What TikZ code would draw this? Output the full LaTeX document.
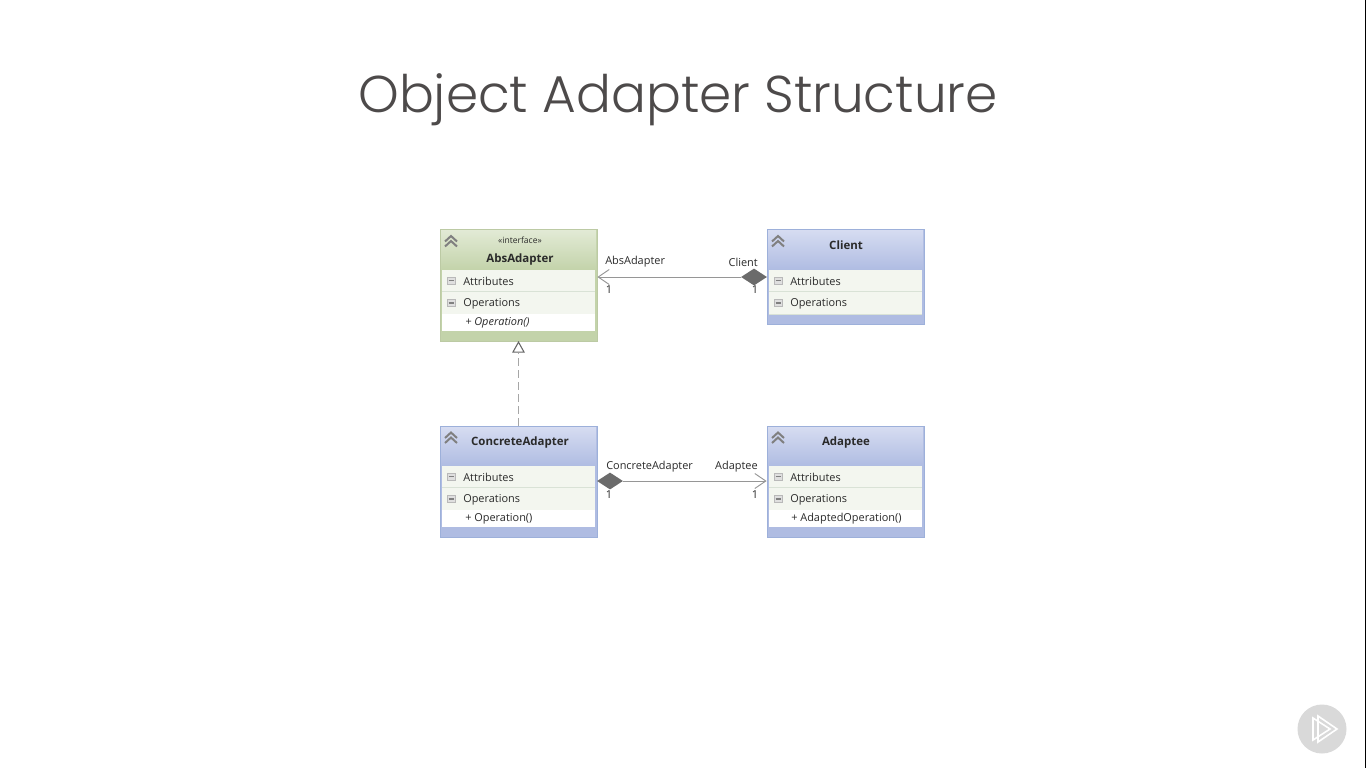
\documentclass[tikz,border=0pt]{standalone}
\usepackage{fontspec}
\setmainfont{Open Sans}
\newfontfamily\titlefont{Poppins Light}
\usetikzlibrary{shapes.geometric,arrows.meta}
\definecolor{txt}{HTML}{2A2A2A}
\definecolor{titlecol}{HTML}{4D4A4A}
\definecolor{conn}{HTML}{969696}
\definecolor{dashcol}{HTML}{A6A6A6}
\definecolor{dia}{HTML}{6B6B6B}
\definecolor{comp}{HTML}{F3F6EF}
\definecolor{sepcol}{HTML}{D9E2D6}
\definecolor{gtop}{HTML}{E2EAD5}
\definecolor{gbot}{HTML}{C3D3AA}
\definecolor{gbord}{HTML}{BCCAA4}
\definecolor{btop}{HTML}{D6DCF1}
\definecolor{bbot}{HTML}{AFBCE2}
\definecolor{bbord}{HTML}{9DB0DA}
\tikzset{
  x=0.75pt,y=-0.75pt,
  classbody/.style={rectangle,draw,line width=0.6pt,inner sep=0pt,minimum width=157*0.75pt},
  classname/.style={font=\fontsize{8.6pt}{10pt}\selectfont\bfseries,text=txt,inner sep=0pt},
  member/.style={font=\fontsize{8.2pt}{10pt}\selectfont,text=txt,inner sep=0pt,anchor=west},
  stereo/.style={font=\fontsize{6.4pt}{8pt}\selectfont,text=txt,inner sep=0pt},
  endlabel/.style={font=\fontsize{8.2pt}{10pt}\selectfont,text=txt,inner sep=0pt},
  assoc/.style={draw=conn,line width=0.7pt},
  diamondend/.style={diamond,fill=dia,draw=none,inner sep=0pt,minimum width=26*0.75pt,minimum height=17*0.75pt},
  openhead/.style={-{Straight Barb[length=11*0.75pt,width=15*0.75pt,line width=0.7pt]}},
  realize/.style={draw=dashcol,line width=1.4pt,dash pattern=on 5.5pt off 3.5pt},
  hollowtip/.style={isosceles triangle,isosceles triangle apex angle=58,shape border rotate=90,draw=black!60,fill=white,line width=0.8pt,inner sep=0pt,minimum height=10*0.75pt},
}
% #1 node name, #2 x1, #3 y1, #4 x2, #5 y2, #6 header bottom, #7 top colour, #8 bottom colour, #9 border
\newcommand{\classbox}[9]{%
  \pgfmathsetmacro{\cxa}{(#2+#4)/2}\pgfmathsetmacro{\cya}{(#3+#5)/2}\pgfmathsetmacro{\hh}{#5-#3}%
  \node[classbody,fill=#8,draw=#9,minimum height=\hh*0.75pt] (#1) at (\cxa,\cya) {};
  \shade[top color=#7,bottom color=#8] (#2+1,#3+1) rectangle (#4-1,#6);
}
% #1 name, #2 x1, #3 x2, #4 y1, #5 y2, #6 label
\newcommand{\compartment}[6]{%
  \fill[comp] (#2+2,#4) rectangle (#3-2,#5);
  \draw[sepcol,line width=0.7pt] (#2+2,#5) -- (#3-2,#5);
  \pgfmathsetmacro{\my}{(#4+#5)/2}%
  \fill[gray!55] (#2+7,\my-4) rectangle (#2+15.5,\my+4);
  \fill[gray!25] (#2+8,\my-3) rectangle (#2+14.5,\my+3);
  \draw[black!50,line width=0.8pt] (#2+8.5,\my) -- (#2+14,\my);
  \node[member] (#1) at (#2+23,\my+0.7) {#6};
}
% double chevron
\newcommand{\chev}[2]{%
  \draw[black!50,line width=1.5pt] (#1-6,#2+0.5) -- (#1,#2-5) -- (#1+6,#2+0.5);
  \draw[black!50,line width=1.5pt] (#1-6,#2+5.5) -- (#1,#2) -- (#1+6,#2+5.5);
}
\begin{document}
\begin{tikzpicture}
\useasboundingbox (0,0) rectangle (1366,768);
\fill[white] (0,0) rectangle (1366,768);
\fill[black] (1365,0) rectangle (1366,768);

\node[font=\titlefont\fontsize{38.8pt}{46pt}\selectfont,text=titlecol,inner sep=0pt,anchor=base] (title) at (678,112) {Object Adapter Structure};

% AbsAdapter
\classbox{abs}{440}{229}{597}{341}{270}{gtop}{gbot}{gbord}
\chev{451}{241}
\node[stereo] (absst) at (520,240) {«interface»};
\node[classname] (absn) at (520,260) {AbsAdapter};
\compartment{absa}{440}{597}{270}{291}{Attributes}
\compartment{abso}{440}{597}{292}{314}{Operations}
\fill[white] (442,314) rectangle (595,331);
\node[member,font=\fontsize{8.2pt}{10pt}\selectfont\itshape] (absm) at (465,323) {+ Operation()};

% Client
\classbox{cli}{767}{229}{924}{324}{270}{btop}{bbot}{bbord}
\chev{778}{241}
\node[classname] (clin) at (846,245) {Client};
\compartment{clia}{767}{924}{270}{291}{Attributes}
\compartment{clio}{767}{924}{292}{314}{Operations}

% ConcreteAdapter
\classbox{con}{440}{426}{597}{537}{466}{btop}{bbot}{bbord}
\chev{451}{437.5}
\node[classname] (conn1) at (520,442.5) {ConcreteAdapter};
\compartment{cona}{440}{597}{466}{487}{Attributes}
\compartment{cono}{440}{597}{488}{510}{Operations}
\fill[white] (442,510) rectangle (595,527);
\node[member] (conm) at (465,519) {+ Operation()};

% Adaptee
\classbox{ada}{767}{426}{924}{537}{466}{btop}{bbot}{bbord}
\chev{778}{437.5}
\node[classname] (adan) at (846,442.5) {Adaptee};
\compartment{adaa}{767}{924}{466}{487}{Attributes}
\compartment{adao}{767}{924}{488}{510}{Operations}
\fill[white] (769,510) rectangle (922,527);
\node[member] (adam) at (791,519) {+ AdaptedOperation()};

% connectors
\node[diamondend] (cd) at (754,277) {};
\draw[assoc,openhead] (cd.west) -- (abs.east |- cd.west);
\node[diamondend] (ad) at (610,481) {};
\draw[assoc,openhead] (ad.east) -- (ada.west |- ad.east);
\node[hollowtip,anchor=apex] (tip) at (518.5,341) {};
\draw[realize] (con.north) -- (tip.south);

% connector labels
\node[endlabel,anchor=west] (l1) at (605,262) {AbsAdapter};
\node[endlabel] (l2) at (609,290) {1};
\node[endlabel,anchor=east] (l3) at (758,262) {Client};
\node[endlabel] (l4) at (755,290) {1};
\node[endlabel,anchor=west] (l5) at (606,467) {ConcreteAdapter};
\node[endlabel] (l6) at (609,495) {1};
\node[endlabel,anchor=east] (l7) at (758,467) {Adaptee};
\node[endlabel] (l8) at (755,495) {1};

% play badge
\fill[black!15] (1322,729) circle (24.5);
\draw[white,line width=1.2pt,line join=miter] (1313,718) -- (1313,740) -- (1330,729) -- cycle;
\draw[white,line width=1.2pt,line join=miter] (1318,716) -- (1318,742) -- (1337,729) -- cycle;
\end{tikzpicture}
\end{document}
